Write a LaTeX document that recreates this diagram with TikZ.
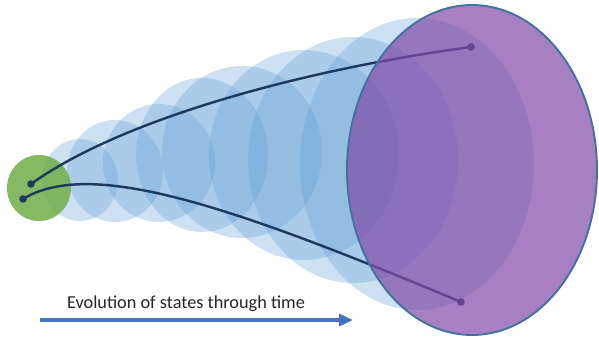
\documentclass[tikz,border=0pt]{standalone}
\usepackage{fontspec}
\setmainfont{Carlito}
\usetikzlibrary{arrows.meta, positioning}
\definecolor{stateblue}{HTML}{5B9BD5}
\definecolor{startgreen}{HTML}{70AD47}
\definecolor{endpurple}{HTML}{804AA8}
\definecolor{rimblue}{HTML}{41719C}
\definecolor{pathnavy}{HTML}{1F3A5F}
\definecolor{timeblue}{HTML}{4472C4}
\begin{document}
\begin{tikzpicture}[
    x=0.03cm, y=-0.03cm,
    cloud/.style={fill=stateblue, fill opacity=0.3},
    origin/.style={fill=startgreen, fill opacity=0.85},
    final/.style={fill=endpurple, fill opacity=0.7, draw=rimblue, line width=1.6pt},
    trajectory/.style={draw=pathnavy, line width=2.1pt},
    dot/.style={circle, fill=pathnavy, inner sep=0pt, minimum size=6.5pt}
]
    \useasboundingbox (0,0) rectangle (599,341);
    % Spreading states
    \foreach \cx/\cy/\rx/\ry in {80/180/38/41, 115/171/48/51, 159/163/56/59,
        202/155/66/77, 242/152/80/86, 304/155/95/105, 353/160/105/123, 417/164/117/146}
        \path[cloud] (\cx,\cy) ellipse [x radius=\rx, y radius=\ry];
    % Initial state
    \path[origin] (39,188) ellipse [x radius=32, y radius=33];
    % Trajectories
    \node[dot] (s1) at (31,184) {};
    \node[dot] (s2) at (23,199) {};
    \node[dot] (e1) at (471,47) {};
    \node[dot] (e2) at (461,302) {};
    \draw[trajectory] (s1.center) .. controls (120,120) and (300,70) .. (e1.center);
    \draw[trajectory] (s2.center) .. controls (90,158) and (230,205) .. (e2.center);
    % Final state
    \path[final] (472,170) ellipse [x radius=125, y radius=165];
    % Time axis
    \coordinate (t0) at (40,320);
    \coordinate (t1) at (353,320);
    \draw[timeblue, line width=2.8pt, -{Triangle[length=0.42cm, width=0.36cm]}] (t0) -- (t1);
    \node[font=\fontsize{15.6}{18}\selectfont, text=black!85] (caption) at (186,304) {Evolution of states through time};
\end{tikzpicture}
\end{document}
